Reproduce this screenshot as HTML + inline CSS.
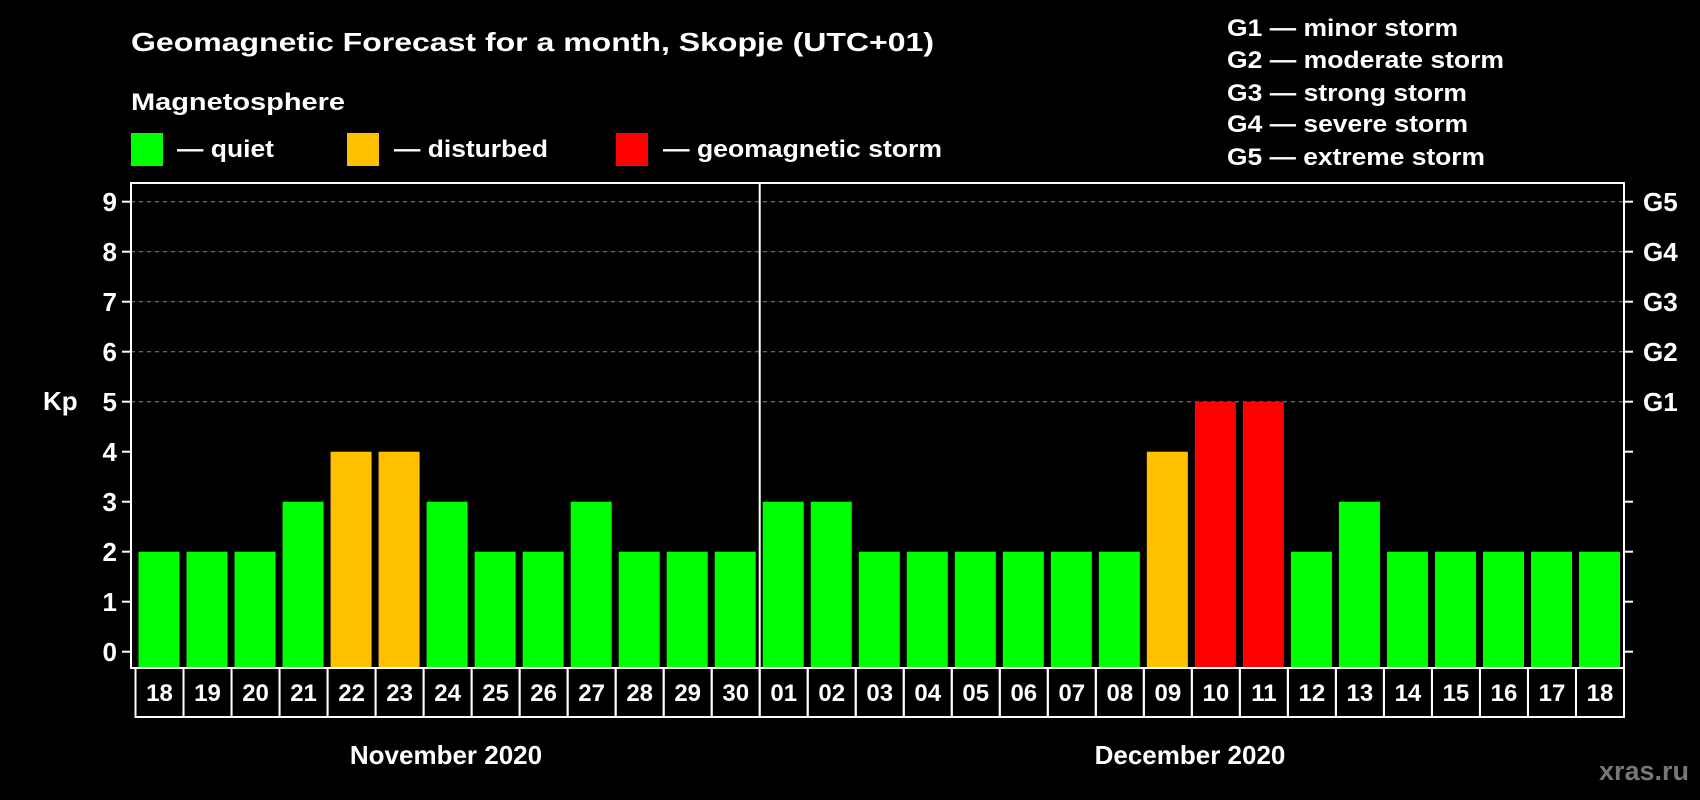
<!DOCTYPE html>
<html><head><meta charset="utf-8"><style>
html,body{margin:0;padding:0;background:#000;}
svg{display:block;font-family:"Liberation Sans",Arial,sans-serif;font-weight:bold;}
</style></head><body>
<svg id="chart" width="1700" height="800" viewBox="0 0 1700 800">
<rect x="0" y="0" width="1700" height="800" fill="#000"/>
<text x="131" y="51" font-size="26" fill="#fff" textLength="803" lengthAdjust="spacingAndGlyphs">Geomagnetic Forecast for a month, Skopje (UTC+01)</text>
<text x="131" y="110" font-size="24" fill="#fff" textLength="214" lengthAdjust="spacingAndGlyphs">Magnetosphere</text>
<rect x="131" y="133" width="32" height="33" fill="#00ff00"/>
<text x="177" y="157" font-size="24" fill="#fff" textLength="97" lengthAdjust="spacingAndGlyphs">— quiet</text>
<rect x="347" y="133" width="32" height="33" fill="#ffc000"/>
<text x="394" y="157" font-size="24" fill="#fff" textLength="154" lengthAdjust="spacingAndGlyphs">— disturbed</text>
<rect x="616" y="133" width="32" height="33" fill="#ff0000"/>
<text x="663" y="157" font-size="24" fill="#fff" textLength="279" lengthAdjust="spacingAndGlyphs">— geomagnetic storm</text>
<text x="1227" y="36" font-size="24" fill="#fff" textLength="231" lengthAdjust="spacingAndGlyphs">G1 — minor storm</text>
<text x="1227" y="68" font-size="24" fill="#fff" textLength="277" lengthAdjust="spacingAndGlyphs">G2 — moderate storm</text>
<text x="1227" y="101" font-size="24" fill="#fff" textLength="240" lengthAdjust="spacingAndGlyphs">G3 — strong storm</text>
<text x="1227" y="132" font-size="24" fill="#fff" textLength="241" lengthAdjust="spacingAndGlyphs">G4 — severe storm</text>
<text x="1227" y="165" font-size="24" fill="#fff" textLength="258" lengthAdjust="spacingAndGlyphs">G5 — extreme storm</text>
<text x="43" y="410" font-size="26" fill="#fff">Kp</text>
<text x="446" y="764" font-size="26" fill="#fff" text-anchor="middle">November 2020</text>
<text x="1190" y="764" font-size="26" fill="#fff" text-anchor="middle">December 2020</text>
<text x="1689" y="780" font-size="27" fill="#777" text-anchor="end">xras.ru</text>
<g id="plot"></g>
</svg>
<script>
const days = ["18","19","20","21","22","23","24","25","26","27","28","29","30","01","02","03","04","05","06","07","08","09","10","11","12","13","14","15","16","17","18"];
const kpValues = [2,2,2,3,4,4,3,2,2,3,2,2,2,3,3,2,2,2,2,2,2,4,5,5,2,3,2,2,2,2,2];
const yTicks = [0,1,2,3,4,5,6,7,8,9];
const gLabels = ["G1","G2","G3","G4","G5"];
const gLevels = [5,6,7,8,9];
const monthSplitIndex = 13;

const NS = "http://www.w3.org/2000/svg";
const plotG = document.getElementById("plot");
const plotLeft = 131, plotRight = 1624, plotTop = 183, plotBottom = 668;
const cellX0 = 135.5, cellW = (plotRight - cellX0) / days.length;
const yZero = 651.7, yUnit = 50;
function yScale(v){ return yZero - v * yUnit; }
function xScale(i){ return cellX0 + i * cellW; }
function colorFor(v){ return v >= 5 ? "#ff0000" : (v >= 4 ? "#ffc000" : "#00ff00"); }
function mk(tag, attrs){ const e = document.createElementNS(NS, tag); for (const k in attrs) e.setAttribute(k, attrs[k]); plotG.appendChild(e); return e; }

yTicks.forEach(function(t){
  const y = yScale(t);
  if (t >= 5) {
    const g = mk("line", {x1:plotLeft, x2:plotRight, y1:y, y2:y, stroke:"#888", "stroke-width":1, "stroke-dasharray":"4,4"});
    
    
  }
  const tl = mk("line", {x1:plotLeft-9, x2:plotLeft, y1:y, y2:y, stroke:"#fff", "stroke-width":2});
  
  
  const tr = mk("line", {x1:plotRight, x2:plotRight+9, y1:y, y2:y, stroke:"#fff", "stroke-width":2});
  
  
  const lb = mk("text", {x:117, y:y+9.5, "font-size":26, fill:"#fff", "text-anchor":"end"});
  lb.textContent = t;
  
  
});
gLabels.forEach(function(g, i){
  const lb = mk("text", {x:1643, y:yScale(gLevels[i])+9.5, "font-size":26, fill:"#fff"});
  lb.textContent = g;
  
  
});
kpValues.forEach(function(v, i){
  const x = xScale(i);
  const b = mk("rect", {x:x+3, y:yScale(v), width:cellW-7, height:plotBottom-yScale(v), fill:colorFor(v)});
  
  
});
const frame = mk("rect", {x:plotLeft, y:plotTop, width:plotRight-plotLeft, height:plotBottom-plotTop, fill:"none", stroke:"#fff", "stroke-width":2});


const sep = mk("line", {x1:xScale(monthSplitIndex), x2:xScale(monthSplitIndex), y1:plotTop, y2:plotBottom, stroke:"#fff", "stroke-width":2});


days.forEach(function(d, i){
  const x = xScale(i);
  const c = mk("rect", {x:x, y:plotBottom, width:cellW, height:49, fill:"none", stroke:"#fff", "stroke-width":2});
  
  
  const t = mk("text", {x:x+cellW/2, y:701, "font-size":24, fill:"#fff", "text-anchor":"middle"});
  t.textContent = d;
  
  
});
</script>
</body></html>
